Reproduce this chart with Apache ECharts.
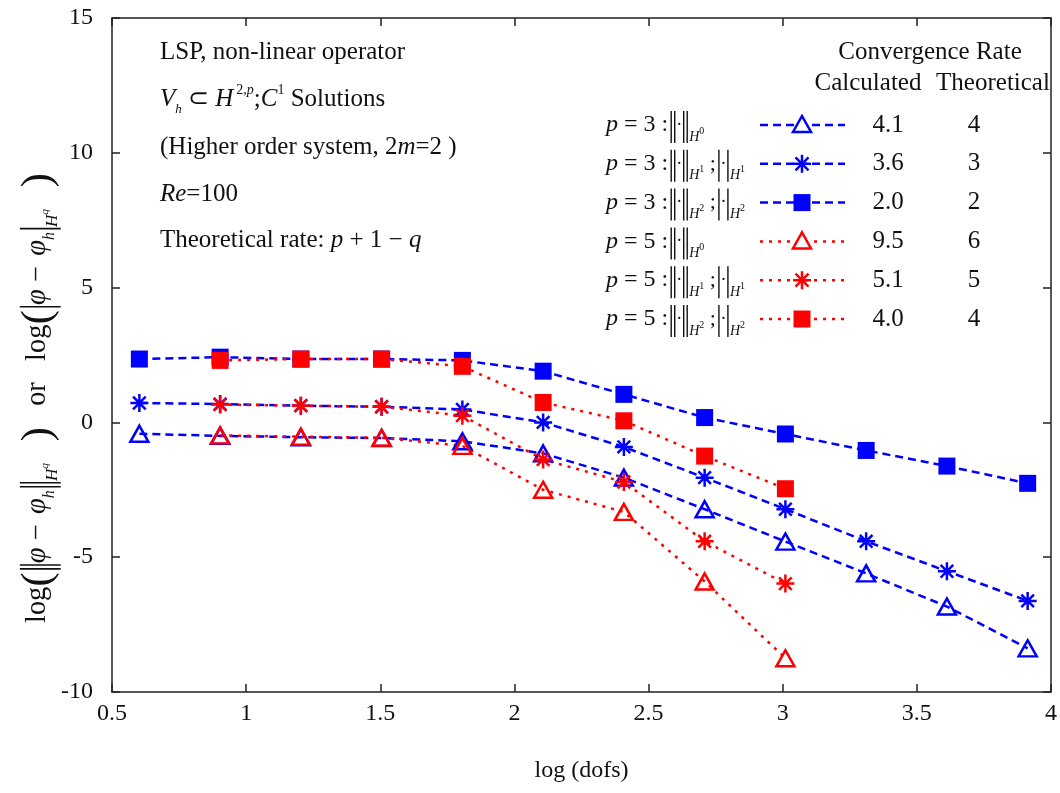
<!DOCTYPE html>
<html><head><meta charset="utf-8">
<script src="https://cdn.jsdelivr.net/npm/echarts@6/dist/echarts.min.js"></script>
<style>html,body{margin:0;padding:0;background:#fff}#c{width:1060px;height:793px}</style>
</head><body><div id="c"></div>
<script>
// ---- data ----
const logDofs = [0.602, 0.903, 1.204, 1.505, 1.806, 2.107, 2.408, 2.709, 3.010, 3.311, 3.612, 3.913];
const logDofsP5 = [0.903, 1.204, 1.505, 1.806, 2.107, 2.408, 2.709, 3.010];
const p3H0 = [-0.42, -0.50, -0.55, -0.58, -0.70, -1.15, -2.05, -3.22, -4.42, -5.60, -6.83, -8.38];
const p3H1 = [0.72, 0.68, 0.62, 0.58, 0.48, 0.00, -0.91, -2.05, -3.22, -4.41, -5.52, -6.62];
const p3H2 = [2.35, 2.42, 2.35, 2.35, 2.30, 1.90, 1.04, 0.18, -0.43, -1.04, -1.62, -2.26];
const p5H0 = [-0.48, -0.53, -0.57, -0.87, -2.50, -3.32, -5.90, -8.75];
const p5H1 = [0.66, 0.62, 0.58, 0.25, -1.38, -2.21, -4.41, -5.98];
const p5H2 = [2.30, 2.35, 2.35, 2.08, 0.74, 0.06, -1.25, -2.46];
const calcRates = ['4.1', '3.6', '2.0', '9.5', '5.1', '4.0'];
const theoRates = ['4', '3', '2', '6', '5', '4'];
const xTicks = [0.5, 1, 1.5, 2, 2.5, 3, 3.5, 4];
const yTicks = [-10, -5, 0, 5, 10, 15];

// ---- styles ----
const FF = '"Liberation Serif", "Times New Roman", serif';
const BLUE = '#0000ff', RED = '#ff0000', INK = '#111';
const BLUE_DASH = [8, 5], RED_DASH = [3, 6];
const STAR = 'path://M50 0 L50 100 M0 50 L100 50 M15 15 L85 85 M85 15 L15 85';
const FS = 25;

const mctx = document.createElement('canvas').getContext('2d');
function tw(t, size, italic) { mctx.font = (italic ? 'italic ' : '') + size + 'px ' + FF; return mctx.measureText(t).width; }
function mathRow(x, y, parts, out) {
  let cx = x;
  for (const p of parts) {
    if (p.bar) {
      const h = p.h || 32; const top = y - h / 2 + (p.dy || 0) + 2;
      cx += (p.pre != null ? p.pre : 3);
      for (let i = 0; i < p.bar; i++) {
        if (i > 0) cx += (p.gap || 3.5);
        out.push({ type: 'line', shape: { x1: cx, y1: top, x2: cx, y2: top + h }, style: { stroke: INK, lineWidth: 1.4 } });
      }
      cx += (p.post != null ? p.post : 1.5);
      continue;
    }
    const size = p.s || FS;
    out.push({ type: 'text', x: cx, y: y + (p.dy || 0), style: { text: p.t, font: (p.i ? 'italic ' : '') + size + 'px ' + FF, fill: INK, textAlign: 'left', textVerticalAlign: 'middle' } });
    cx += tw(p.t, size, p.i) + (p.sp || 0);
  }
  return cx;
}
function ctext(x, y, t) { return { type: 'text', x, y, style: { text: t, font: FS + 'px ' + FF, fill: INK, textAlign: 'center', textVerticalAlign: 'middle' } }; }

const g = [];
// top-left annotation block
const TX = 160;
mathRow(TX, 52, [{ t: 'LSP, non-linear operator' }], g);
mathRow(TX, 99, [{ t: 'V', i: 1 }, { t: 'h', i: 1, s: 13, dy: 11 }, { t: ' \u2282 ' }, { t: 'H', i: 1, sp: 3 }, { t: '2,', s: 14, dy: -9 }, { t: 'p', i: 1, s: 14, dy: -9 }, { t: ';' }, { t: 'C', i: 1 }, { t: '1', s: 14, dy: -9 }, { t: ' Solutions' }], g);
mathRow(TX, 147, [{ t: '(Higher order system, 2' }, { t: 'm', i: 1 }, { t: '=2 )' }], g);
mathRow(TX, 194, [{ t: 'Re', i: 1 }, { t: '=100' }], g);
mathRow(TX, 240, [{ t: 'Theoretical rate: ' }, { t: 'p', i: 1 }, { t: ' + 1 \u2212 ' }, { t: 'q', i: 1 }], g);

// legend header
g.push(ctext(930, 52, 'Convergence Rate'));
g.push(ctext(868, 83, 'Calculated'));
g.push(ctext(993, 83, 'Theoretical'));

// legend rows
const legRows = [
  { p: '3', sub: '0', semi: false, color: BLUE, dash: BLUE_DASH, mk: 'tri' },
  { p: '3', sub: '1', semi: true, color: BLUE, dash: BLUE_DASH, mk: 'star' },
  { p: '3', sub: '2', semi: true, color: BLUE, dash: BLUE_DASH, mk: 'sq' },
  { p: '5', sub: '0', semi: false, color: RED, dash: RED_DASH, mk: 'tri' },
  { p: '5', sub: '1', semi: true, color: RED, dash: RED_DASH, mk: 'star' },
  { p: '5', sub: '2', semi: true, color: RED, dash: RED_DASH, mk: 'sq' }
];
legRows.forEach((r, k) => {
  const y = 125 + k * 38.8;
  const parts = [{ t: 'p', i: 1, s: 24 }, { t: ' = ' + r.p + ' :', s: 24 }, { bar: 2, pre: 3, post: 1.5 }, { t: '\u00b7', s: 18 }, { bar: 2, pre: 1.5, post: 2 }, { t: 'H', i: 1, s: 14, dy: 12 }, { t: r.sub, s: 10, dy: 6 }];
  if (r.semi) parts.push({ t: ' ;', s: 22 }, { bar: 1, pre: 3, post: 1.5 }, { t: '\u00b7', s: 18 }, { bar: 1, pre: 1.5, post: 2 }, { t: 'H', i: 1, s: 14, dy: 12 }, { t: r.sub, s: 10, dy: 6 });
  mathRow(606, y, parts, g);
  g.push({ type: 'line', shape: { x1: 760, y1: y, x2: 845, y2: y }, style: { stroke: r.color, lineWidth: 2.5, lineDash: r.dash } });
  const cx = 802;
  if (r.mk === 'tri') g.push({ type: 'polygon', shape: { points: [[cx, y - 9], [cx + 9, y + 7], [cx - 9, y + 7]] }, style: { fill: '#fff', stroke: r.color, lineWidth: 2.5 } });
  else if (r.mk === 'sq') g.push({ type: 'rect', shape: { x: cx - 8.5, y: y - 8.5, width: 17, height: 17 }, style: { fill: r.color } });
  else {
    [[0, -9, 0, 9], [-9, 0, 9, 0], [-6.5, -6.5, 6.5, 6.5], [6.5, -6.5, -6.5, 6.5]].forEach(s => g.push({ type: 'line', shape: { x1: cx + s[0], y1: y + s[1], x2: cx + s[2], y2: y + s[3] }, style: { stroke: r.color, lineWidth: 2.5 } }));
  }
  g.push(ctext(888, y, calcRates[k]));
  g.push(ctext(974, y, theoRates[k]));
});

// rotated y-axis title (scaled to span the reference length)
const ytParts = [
  { t: 'log' }, { t: '(', s: 38, dy: 1 }, { bar: 2, h: 36 }, { t: '\u03c6', i: 1 }, { t: ' \u2212 ', sp: 3 }, { t: '\u03c6', i: 1 }, { t: 'h', i: 1, s: 14, dy: 10 }, { bar: 2, h: 36 }, { t: 'H', i: 1, s: 15, dy: 13 }, { t: 'q', i: 1, s: 10, dy: 6 }, { t: '  )', s: 38, dy: 1 },
  { t: '   or   ' },
  { t: 'log' }, { t: '(', s: 38, dy: 1 }, { bar: 1, h: 36 }, { t: '\u03c6', i: 1 }, { t: ' \u2212 ', sp: 3 }, { t: '\u03c6', i: 1 }, { t: 'h', i: 1, s: 14, dy: 10 }, { bar: 1, h: 36 }, { t: 'H', i: 1, s: 15, dy: 13 }, { t: 'q', i: 1, s: 10, dy: 6 }, { t: '  )', s: 38, dy: 1 }
];
const tmp = [];
const ytW = mathRow(0, 0, ytParts, tmp);
const ytKids = [];
mathRow(-ytW / 2, 0, ytParts, ytKids);
const ytScale = Math.min(1.2, 450 / ytW);
g.push({ type: 'group', x: 38, y: 398, rotation: Math.PI / 2, scaleX: ytScale, scaleY: ytScale, children: ytKids });

// ---- chart ----
function pairs(xs, ys) { return xs.map((x, i) => [x, ys[i]]); }
function mkSeries(name, xs, ys, color, dash, mk) {
  const s = { name, type: 'line', data: pairs(xs, ys), xAxisIndex: 0, yAxisIndex: 0, silent: true, animation: false,
    lineStyle: { color, width: 2.5, type: dash }, showSymbol: true };
  if (mk === 'tri') { s.symbol = 'triangle'; s.symbolSize = [18, 16]; s.itemStyle = { color: 'rgba(255,255,255,0)', borderColor: color, borderWidth: 2.5 }; }
  else if (mk === 'sq') { s.symbol = 'rect'; s.symbolSize = 17; s.itemStyle = { color, borderWidth: 0 }; }
  else { s.symbol = STAR; s.symbolSize = 18; s.itemStyle = { color, borderColor: color, borderWidth: 2.5 }; }
  return s;
}
const axisLineStyle = { color: '#222', width: 1.5 };
const labelStyle = { fontFamily: FF, fontSize: 24, color: INK };
const option = {
  backgroundColor: '#fff',
  animation: false,
  grid: { left: 112, right: 8, top: 18, bottom: 101, containLabel: false },
  xAxis: [
    { type: 'value', position: 'bottom', min: xTicks[0], max: xTicks[xTicks.length - 1], interval: 0.5,
      axisLine: { show: true, onZero: false, lineStyle: axisLineStyle },
      axisTick: { show: true, inside: true, length: 8, lineStyle: axisLineStyle },
      axisLabel: Object.assign({ margin: 10 }, labelStyle),
      splitLine: { show: false },
      name: 'log (dofs)', nameLocation: 'middle', nameGap: 67, nameTextStyle: labelStyle },
    { type: 'value', position: 'top', min: xTicks[0], max: xTicks[xTicks.length - 1], interval: 0.5,
      axisLine: { show: true, onZero: false, lineStyle: axisLineStyle },
      axisTick: { show: true, inside: true, length: 8, lineStyle: axisLineStyle },
      axisLabel: { show: false }, splitLine: { show: false } }
  ],
  yAxis: [
    { type: 'value', position: 'left', min: yTicks[0], max: yTicks[yTicks.length - 1], interval: 5,
      axisLine: { show: true, onZero: false, lineStyle: axisLineStyle },
      axisTick: { show: true, inside: true, length: 8, lineStyle: axisLineStyle },
      axisLabel: Object.assign({ margin: 19 }, labelStyle),
      splitLine: { show: false } },
    { type: 'value', position: 'right', min: yTicks[0], max: yTicks[yTicks.length - 1], interval: 5,
      axisLine: { show: true, onZero: false, lineStyle: axisLineStyle },
      axisTick: { show: true, inside: true, length: 8, lineStyle: axisLineStyle },
      axisLabel: { show: false }, splitLine: { show: false } }
  ],
  series: [
    mkSeries('p=3 H0', logDofs, p3H0, BLUE, BLUE_DASH, 'tri'),
    mkSeries('p=3 H1', logDofs, p3H1, BLUE, BLUE_DASH, 'star'),
    mkSeries('p=3 H2', logDofs, p3H2, BLUE, BLUE_DASH, 'sq'),
    mkSeries('p=5 H0', logDofsP5, p5H0, RED, RED_DASH, 'tri'),
    mkSeries('p=5 H1', logDofsP5, p5H1, RED, RED_DASH, 'star'),
    mkSeries('p=5 H2', logDofsP5, p5H2, RED, RED_DASH, 'sq')
  ],
  graphic: { elements: g }
};
const chart = echarts.init(document.getElementById('c'), null, { renderer: 'canvas' });
chart.setOption(option);
</script>
</body></html>
